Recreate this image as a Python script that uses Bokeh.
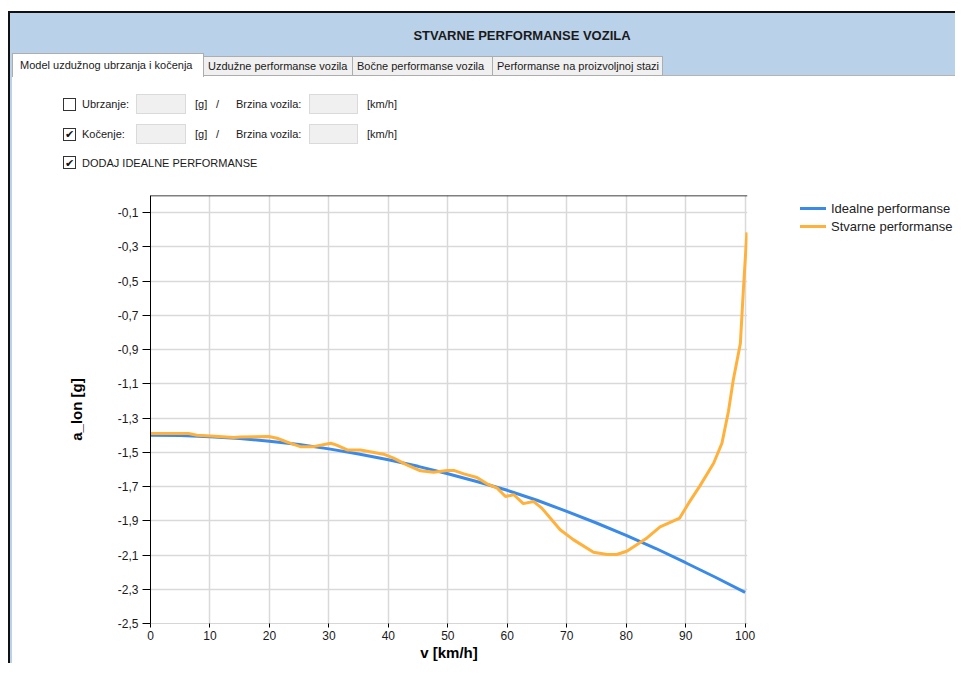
from bokeh.plotting import figure
from bokeh.models import Range1d, FixedTicker, Span, Div
from bokeh.layouts import column, row
from bokeh.embed import file_html
from bokeh.resources import INLINE

# ---------------- data ----------------
ideal_v = [0, 5, 10, 15, 20, 25, 30, 35, 40, 45, 50, 55, 60, 65, 70, 75, 80, 85, 90, 95, 100]
ideal_a = [-1.400, -1.402, -1.409, -1.420, -1.435, -1.455, -1.480, -1.510, -1.543, -1.582,
           -1.625, -1.672, -1.722, -1.780, -1.845, -1.913, -1.985, -2.062, -2.145, -2.230, -2.318]

real_v = [0, 6.4, 7.8, 10.1, 14.0, 15.1, 19.9, 21.3, 23.0, 25.2, 27.4, 30.3, 31.2, 33.1, 35.3,
          39.2, 40.9, 43.1, 45.4, 47.6, 49.9, 51.0, 52.7, 54.9, 56.6, 58.3, 59.7, 61.1, 62.7,
          64.4, 65.8, 68.9, 71.1, 74.5, 76.8, 78.4, 80.1, 83.5, 85.7, 87.4, 89.0, 90.5, 92.4,
          94.7, 96.1, 97.2, 98.0, 99.2, 99.7, 100.3]
real_a = [-1.390, -1.390, -1.400, -1.405, -1.414, -1.410, -1.408, -1.418, -1.441, -1.467, -1.467,
          -1.447, -1.457, -1.486, -1.486, -1.511, -1.534, -1.573, -1.608, -1.616, -1.606, -1.606,
          -1.626, -1.647, -1.684, -1.709, -1.758, -1.748, -1.800, -1.787, -1.826, -1.952, -2.010,
          -2.084, -2.097, -2.097, -2.078, -2.000, -1.936, -1.909, -1.884, -1.797, -1.696, -1.564,
          -1.447, -1.260, -1.079, -0.865, -0.555, -0.215]

series_names = ["Idealne performanse", "Stvarne performanse"]
x_ticks = [0, 10, 20, 30, 40, 50, 60, 70, 80, 90, 100]
y_ticks = [-2.5, -2.3, -2.1, -1.9, -1.7, -1.5, -1.3, -1.1, -0.9, -0.7, -0.5, -0.3, -0.1]
y_tick_labels = ["-2,5", "-2,3", "-2,1", "-1,9", "-1,7", "-1,5", "-1,3", "-1,1", "-0,9", "-0,7",
                 "-0,5", "-0,3", "-0,1"]

window_title = "STVARNE PERFORMANSE VOZILA"
tab_titles = ["Model uzdužnog ubrzanja i kočenja", "Uzdužne performanse vozila",
              "Bočne performanse vozila", "Performanse na proizvoljnoj stazi"]
row_labels = ["Ubrzanje:", "Kočenje:", "DODAJ IDEALNE PERFORMANSE"]
row_checked = [False, True, True]

FONT = "Liberation Sans"
BLUE = "#3b8ae8"
ORANGE = "#ffb13b"
COLORS = [BLUE, ORANGE]
TXT = "#1a1a1a"
HEADER = "#bad1ea"

W, H = 955, 663
TOP_H = 180
CHART_W = 760


def hbox(parts, x0, y0, x1, y1, bg, border=None):
    b = f"border:1px solid {border};" if border else ""
    parts.append(f'<div style="position:absolute;left:{x0}px;top:{y0}px;width:{x1 - x0}px;'
                 f'height:{y1 - y0}px;background:{bg};{b}box-sizing:border-box"></div>')


def htxt(parts, x, y, t, size=11, bold=False, center=False, font=FONT, color=TXT):
    tx = "-50%" if center else "0"
    parts.append(f'<div style="position:absolute;left:{x}px;top:{y}px;white-space:nowrap;'
                 f'transform:translate({tx},-50%);font-family:\'{font}\';font-size:{size}px;'
                 f'line-height:{size + 2}px;font-weight:{"bold" if bold else "normal"};'
                 f'color:{color}">{t}</div>')


# ---------------- window chrome (HTML, real text) ----------------
parts = []
hbox(parts, 8, 11, W, 12.5, "#111111")
hbox(parts, 8, 11, 10, TOP_H, "#111111")
hbox(parts, 10, 12.5, 12, TOP_H, HEADER)
hbox(parts, 12, 12.5, W, 75, HEADER)
hbox(parts, 12, 75, W, 76, "#b4b4b4")
htxt(parts, 522, 35, window_title, size=13, bold=True, center=True)

tab_x = [12, 203, 352, 492, 662]
for i in range(1, 4):
    hbox(parts, tab_x[i], 56, tab_x[i + 1] + 1, 76, "#f0f0f0", border="#adadad")
hbox(parts, tab_x[0], 53, tab_x[1] + 1, 77, "white", border="#adadad")
hbox(parts, tab_x[0] + 1, 74, tab_x[1], 79, "white")
htxt(parts, tab_x[0] + 8, 65, tab_titles[0])
for i in range(1, 4):
    htxt(parts, tab_x[i] + 5, 66, tab_titles[i])

row_y = [104, 134, 162.5]
for k, cy in enumerate(row_y):
    hbox(parts, 63, cy - 6.5, 76, cy + 6.5, "white", border="#333333")
    if row_checked[k]:
        htxt(parts, 69.5, cy, "✔", size=11, center=True, font="DejaVu Sans", color="#111111")
    htxt(parts, 82, cy, row_labels[k])
    if k < 2:
        hbox(parts, 136, cy - 10, 186, cy + 10, "#f0f0f0", border="#dadada")
        htxt(parts, 195, cy, "[g]")
        htxt(parts, 216, cy, "/")
        htxt(parts, 236, cy, "Brzina vozila:")
        hbox(parts, 309, cy - 10, 358, cy + 10, "#f0f0f0", border="#dadada")
        htxt(parts, 367, cy, "[km/h]")

chrome = Div(text=f'<div style="position:relative;width:{W}px;height:{TOP_H}px;'
                  f'overflow:hidden;background:white">' + "".join(parts) + "</div>",
             width=W, height=TOP_H, margin=0)

# ---------------- chart ----------------
p = figure(width=CHART_W, height=H - TOP_H, x_range=Range1d(0, 100.4),
           y_range=Range1d(-2.5, 0), output_backend="svg", toolbar_location=None,
           min_border_left=150, min_border_right=CHART_W - 747,
           min_border_top=195 - TOP_H, min_border_bottom=39, margin=0,
           styles={"background": "linear-gradient(to right, white 0px, white 8px, #111111 8px, "
                                 "#111111 10px, " + HEADER + " 10px, " + HEADER + " 12px, "
                                 "white 12px, white 100%)"})
p.outline_line_color = None
p.background_fill_color = "white"
p.border_fill_color = None

p.line(ideal_v, ideal_a, line_color=COLORS[0], line_width=3)
p.line(real_v, real_a, line_color=COLORS[1], line_width=3)

p.xaxis.ticker = FixedTicker(ticks=x_ticks)
p.yaxis.ticker = FixedTicker(ticks=y_ticks)
p.yaxis.major_label_overrides = dict(zip(y_ticks, y_tick_labels))
for ax in (p.xaxis, p.yaxis):
    ax.minor_tick_line_color = None
    ax.major_tick_in = 0
    ax.major_label_text_font = FONT
    ax.major_label_text_font_size = "12px"
    ax.major_label_text_color = TXT
    ax.axis_label_text_font = FONT
    ax.axis_label_text_font_size = "15px"
    ax.axis_label_text_font_style = "bold"
    ax.axis_label_text_color = "black"
    ax.major_tick_line_color = "black"
p.xaxis.axis_label = "v [km/h]"
p.yaxis.axis_label = "a_lon [g]"
p.xaxis.axis_line_color = "#d6d6d6"
p.xaxis.major_tick_out = 4
p.xaxis.major_label_standoff = 3
p.xaxis.axis_label_standoff = 1
p.yaxis.axis_line_color = "black"
p.yaxis.major_tick_out = 8
p.yaxis.major_label_standoff = 4
p.yaxis.axis_label_standoff = 30

p.grid.grid_line_color = "#d9d9d9"
p.grid.grid_line_width = 1.5
p.add_layout(Span(location=0, dimension="width", line_color="black", line_width=1.5))

# ---------------- legend (to the right of the chart) ----------------
LEG_W = W - CHART_W
lparts = []
for k, name in enumerate(series_names):
    cy = 28 + 18 * k
    hbox(lparts, 800 - CHART_W, cy - 1.5, 826 - CHART_W, cy + 1.5, COLORS[k])
    htxt(lparts, 831 - CHART_W, cy, name, size=13, color="#222222")
legend = Div(text=f'<div style="position:relative;width:{LEG_W}px;height:{H - TOP_H}px;'
                  f'overflow:hidden;background:white">' + "".join(lparts) + "</div>",
             width=LEG_W, height=H - TOP_H, margin=0)

layout = column(chrome, row(p, legend, spacing=0), spacing=0)
open("out.html", "w").write(file_html(layout, INLINE))
